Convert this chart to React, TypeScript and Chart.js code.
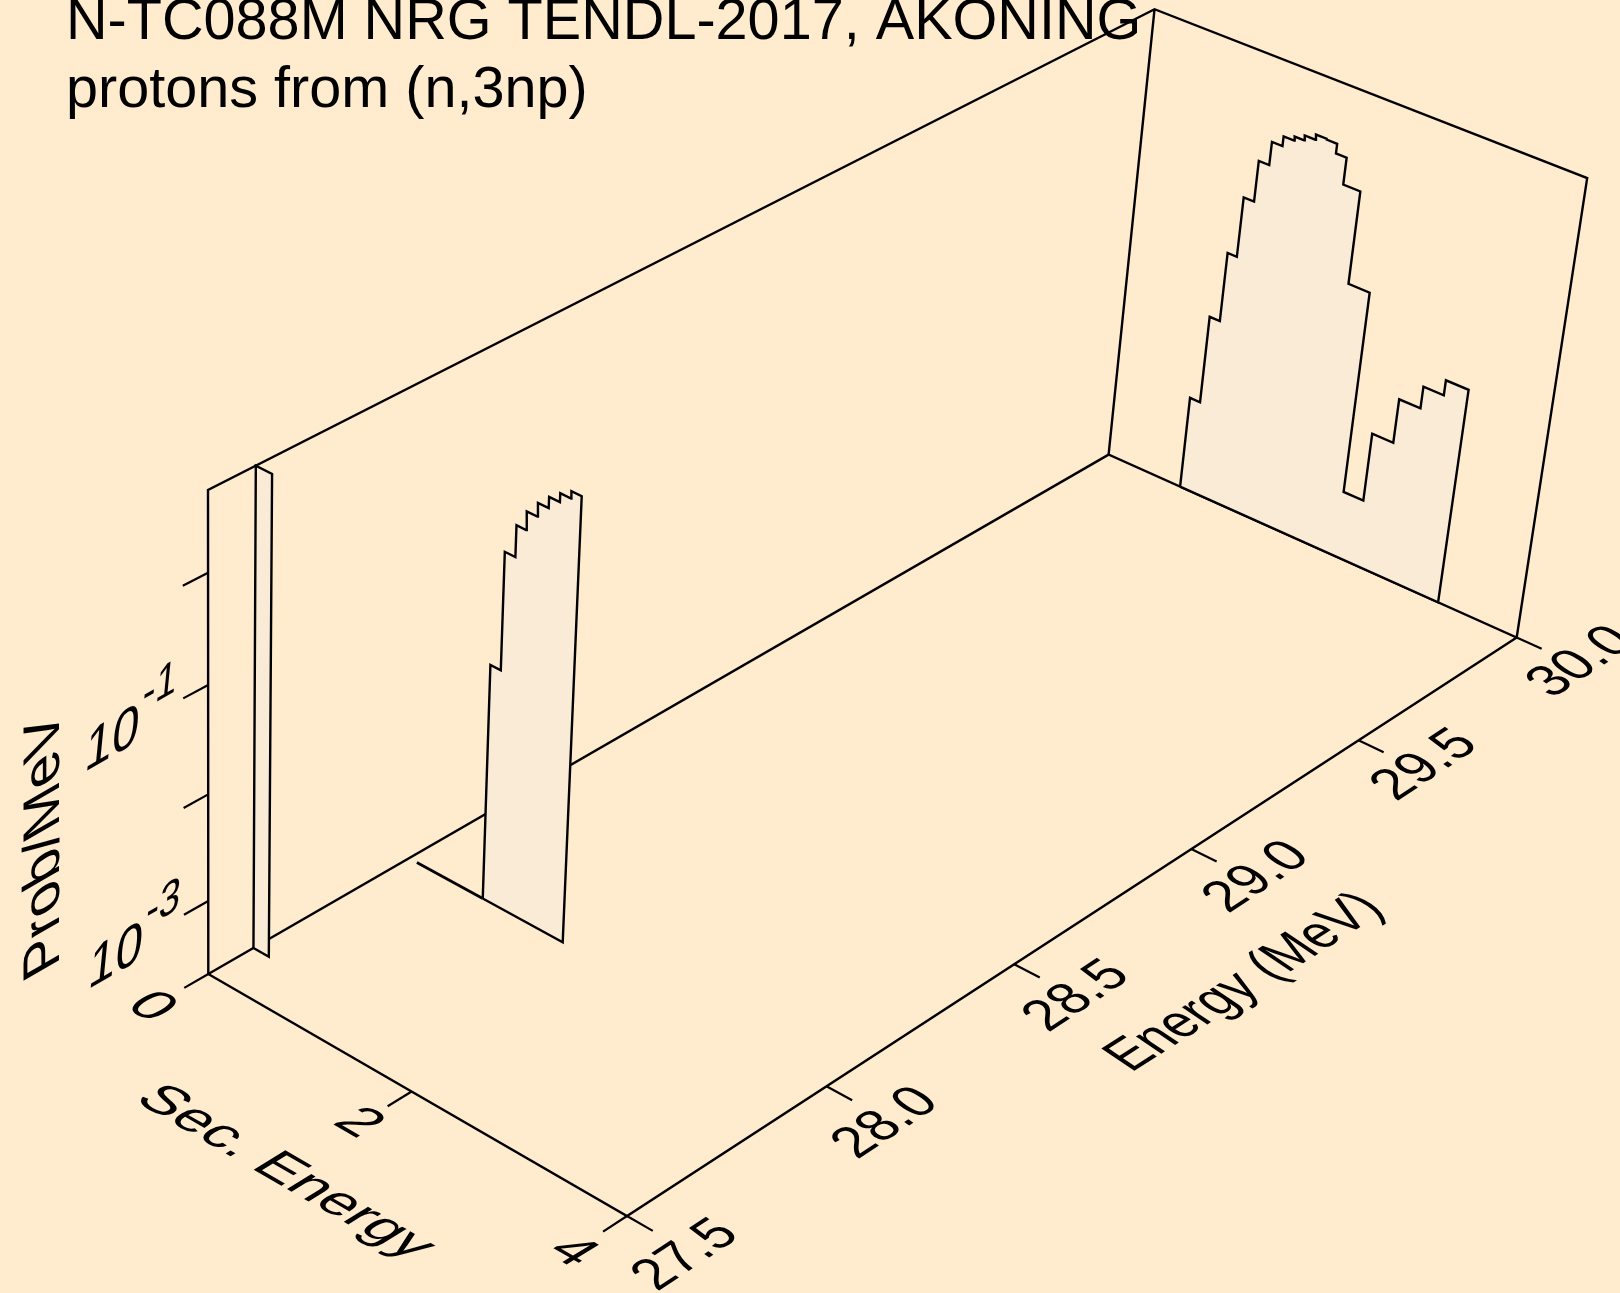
import React, { useEffect, useRef } from "react";
import { Chart, registerables } from "chart.js";

Chart.register(...registerables);

// ---- data ----
const binEdges30 = [0.73, 0.83, 0.93, 1.02, 1.12, 1.22, 1.32, 1.42, 1.51, 1.61, 1.71, 1.81, 1.91, 2.07, 2.27, 2.46, 2.66, 2.86, 3.05, 3.26];
const probAt30 = [0.00163, 0.0118, 0.0557, 0.211, 0.519, 0.865, 1.07, 1.17, 1.30, 1.455, 1.43, 1.16, 0.646, 0.0841, 0.0009, 0.00422, 0.01135, 0.0185, 0.0259];
const binEdges28 = [0.74, 0.84, 0.94, 1.03, 1.13, 1.23, 1.33, 1.43, 1.525];
const probAt28 = [0.0331, 0.396, 0.762, 1.114, 1.472, 1.854, 2.218, 2.57];
const floorStartAt28 = 0.08;
const slabEdges = [0, 0.155];
const probAtSlab = [5.25];
const incidentEnergies = [27.61, 28.0, 30.0];
const energyTicks = [27.5, 28.0, 28.5, 29.0, 29.5, 30.0];
const secTicks = [0, 2, 4];
const probTicks = [-3, -2, -1, 0];
const titleLines = ["N-TC088M NRG TENDL-2017, AKONING", "protons from (n,3np)"];

// ---- axis ranges ----
const E_MIN = 27.5, E_MAX = 30, S_MAX = 4, L_MIN = -3.7, L_MAX = 0.72;

// ---- projection of the box onto the page ----
const A = [208.3, 974], B = [627, 1216], C = [1516.7, 637.5], D = [1108.6, 454.6], Atop = [208, 490];
const FONT = "'Liberation Sans', Arial, sans-serif";
const BG = "#FFEBCD";
const FILL = "#FAEBD7";
const W = 1620, H = 1293;

function makeProjection() {
  const a1 = D[0] - C[0], b1 = B[0] - C[0], r1 = A[0] - C[0];
  const a2 = D[1] - C[1], b2 = B[1] - C[1], r2 = A[1] - C[1];
  const det = a1 * b2 - b1 * a2;
  const p = (r1 * b2 - b1 * r2) / det;
  const q = (a1 * r2 - r1 * a2) / det;
  const c = -0.056;
  const Pu = [p * D[0] - A[0], p * D[1] - A[1]];
  const Pv = [q * B[0] - A[0], q * B[1] - A[1]];
  const Pt = [(1 + c) * Atop[0] - A[0], (1 + c) * Atop[1] - A[1]];
  return (energy: number, sec: number, logP: number) => {
    const u = (energy - E_MIN) / (E_MAX - E_MIN);
    const v = sec / S_MAX;
    const t = (Math.max(L_MIN, Math.min(L_MAX, logP)) - L_MIN) / (L_MAX - L_MIN);
    const w = 1 + (p - 1) * u + (q - 1) * v + c * t;
    return {
      x: (A[0] + u * Pu[0] + v * Pv[0] + t * Pt[0]) / w,
      y: (A[1] + u * Pu[1] + v * Pv[1] + t * Pt[1]) / w,
    };
  };
}
const proj = makeProjection();

function histogram(energy: number, edges: number[], probs: number[]) {
  const pts: { x: number; y: number }[] = [];
  pts.push(proj(energy, edges[0], L_MIN));
  probs.forEach((pv, i) => {
    const l = Math.log10(pv);
    pts.push(proj(energy, edges[i], l));
    pts.push(proj(energy, edges[i + 1], l));
  });
  pts.push(proj(energy, edges[probs.length], L_MIN));
  return pts;
}

function lineDs(points: { x: number; y: number }[], order: number, width = 2.4) {
  return { data: points, showLine: true, borderColor: "#000", borderWidth: width, pointRadius: 0, fill: false, order, tension: 0, borderJoinStyle: "miter" as const };
}
function sliceDs(points: { x: number; y: number }[], order: number) {
  return { ...lineDs([...points, points[0]], order), fill: "shape", backgroundColor: FILL };
}

type Txt = { s: string; x: number; y: number; dir: number; up: number; sx: number; sy: number };

export default function App() {
  const ref = useRef<HTMLCanvasElement>(null);
  useEffect(() => {
    document.body.style.margin = "0";
    document.body.style.background = BG;
    const eL = E_MIN, eR = E_MAX;
    const box = [
      [proj(eL, 0, L_MIN), proj(eL, 0, L_MAX), proj(eR, 0, L_MAX), proj(eR, S_MAX, L_MAX), proj(eR, S_MAX, L_MIN), proj(eR, 0, L_MIN), proj(eR, 0, L_MAX)],
      [proj(eL, 0, L_MIN), proj(eL, S_MAX, L_MIN), proj(eR, S_MAX, L_MIN)],
      [proj(eL, 0, L_MIN), proj(eR, 0, L_MIN)],
    ];
    const ticks: { x: number; y: number }[][] = [];
    const tickE = eL - 0.058;
    probTicks.forEach((l) => ticks.push([proj(eL, 0, l), proj(tickE, 0, l)]));
    secTicks.forEach((s) => ticks.push([proj(eL, s, L_MIN), proj(tickE, s, L_MIN)]));
    energyTicks.forEach((e) => ticks.push([proj(e, S_MAX, L_MIN), proj(e, S_MAX * 1.058, L_MIN)]));

    const datasets: any[] = [];
    box.forEach((b) => datasets.push(lineDs(b, 10)));
    ticks.forEach((t) => datasets.push(lineDs(t, 10, 2.2)));
    datasets.push(sliceDs(histogram(incidentEnergies[2], binEdges30, probAt30), 9));
    datasets.push(sliceDs(histogram(incidentEnergies[1], binEdges28, probAt28), 8));
    datasets.push(lineDs([proj(incidentEnergies[1], floorStartAt28, L_MIN), proj(incidentEnergies[1], binEdges28[0], L_MIN)], 8, 2.8));
    datasets.push(sliceDs(histogram(incidentEnergies[0], slabEdges, probAtSlab), 7));

    const eTick = { dir: -33.5, up: -146, sx: 52, sy: 56 };
    const sTick = { dir: 30, up: -31.5, sx: 58, sy: 55 };
    const labels: Txt[] = [
      { s: "Energy (MeV)", x: 1131, y: 1073, dir: -32.5, up: -146, sx: 49, sy: 58 },
      { s: "Sec. Energy", x: 133, y: 1100, dir: 30, up: -31.5, sx: 59, sy: 54 },
      { s: "Prob/MeV", x: 59, y: 965, dir: -90, up: 150, sx: 58, sy: 59.5 },
      { s: "0", x: 124, y: 1007, ...sTick },
      { s: "2", x: 331, y: 1123, ...sTick },
      { s: "4", x: 545, y: 1252, ...sTick },
    ];
    const energyLabelPos = [[657, 1292], [857, 1160], [1048, 1033], [1228, 914], [1396, 802], [1552, 699]];
    energyTicks.forEach((e, i) => {
      labels.push({ s: e.toFixed(1), x: energyLabelPos[i][0], y: energyLabelPos[i][1], ...eTick });
    });
    const decades = [
      { x: 87, y: 990, exp: "-3" },
      { x: 83.6, y: 772.7, exp: "-1" },
    ];
    decades.forEach((k) => {
      labels.push({ s: "10", x: k.x, y: k.y, dir: -30, up: -84.4, sx: 56, sy: 60 });
      labels.push({ s: k.exp, x: k.x + 58, y: k.y - 62, dir: -30, up: -84.4, sx: 44, sy: 50 });
    });

    const decorate = {
      id: "decorate",
      afterDatasetsDraw(chart: Chart) {
        const ctx = chart.ctx;
        ctx.save();
        ctx.fillStyle = "#000";
        ctx.textBaseline = "alphabetic";
        ctx.font = `57.6px ${FONT}`;
        ctx.fillText(titleLines[0], 66, 39);
        ctx.fillText(titleLines[1], 66, 107);
        labels.forEach((t) => {
          const d = (t.dir * Math.PI) / 180, u = (t.up * Math.PI) / 180;
          ctx.save();
          ctx.setTransform(
            (t.sx / 100) * Math.cos(d), (t.sx / 100) * Math.sin(d),
            -(t.sy / 100) * Math.cos(u), -(t.sy / 100) * Math.sin(u),
            t.x, t.y
          );
          ctx.font = `100px ${FONT}`;
          ctx.fillText(t.s, 0, 0);
          ctx.restore();
        });
        ctx.restore();
      },
    };

    const chart = new Chart(ref.current!, {
      type: "scatter",
      data: { datasets },
      options: {
        animation: false,
        responsive: false,
        layout: { padding: 0 },
        plugins: { legend: { display: false }, tooltip: { enabled: false }, title: { display: false } },
        scales: {
          x: { type: "linear", min: 0, max: W, display: false },
          y: { type: "linear", min: 0, max: H, reverse: true, display: false },
        },
      },
      plugins: [decorate],
    });
    return () => chart.destroy();
  }, []);
  return <canvas ref={ref} width={W} height={H} style={{ display: "block", width: W, height: H, background: BG }} />;
}
